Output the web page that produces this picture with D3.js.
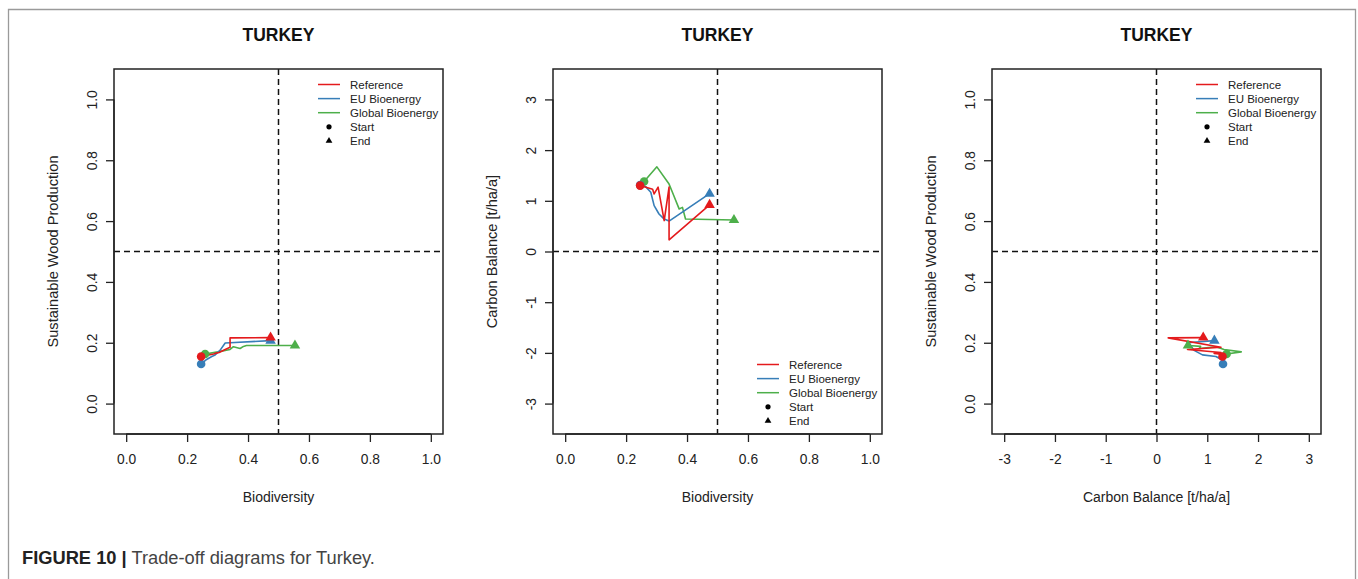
<!DOCTYPE html>
<html>
<head>
<meta charset="utf-8">
<script src="https://cdn.jsdelivr.net/npm/d3@7/dist/d3.min.js"></script>
<style>
  html, body { margin: 0; padding: 0; background: #fff; }
  svg { display: block; font-family: "Liberation Sans", Arial, sans-serif; }
</style>
</head>
<body>
<svg id="chart" width="1358" height="579"></svg>
<script>
// ---------- DATA ----------
const seriesNames = ["Reference", "EU Bioenergy", "Global Bioenergy"];
const seriesColors = ["#E41A1C", "#377EB8", "#4DAF4A"];

// Reference
const refBio    = [0.246, 0.287, 0.292, 0.305, 0.325, 0.341, 0.341, 0.474];
const refWood   = [0.155, 0.163, 0.165, 0.168, 0.178, 0.185, 0.216, 0.217];
const refCarbon = [1.30, 1.23, 1.135, 1.27, 0.61, 1.27, 0.23, 0.92];
// EU Bioenergy
const euBio     = [0.246, 0.264, 0.281, 0.292, 0.308, 0.325, 0.341, 0.474];
const euWood    = [0.130, 0.145, 0.155, 0.160, 0.175, 0.199, 0.200, 0.207];
const euCarbon  = [1.31, 1.28, 1.17, 0.905, 0.74, 0.64, 0.60, 1.14];
// Global Bioenergy
const glBio     = [0.259, 0.301, 0.341, 0.352, 0.374, 0.385, 0.395, 0.554];
const glWood    = [0.163, 0.170, 0.178, 0.187, 0.181, 0.188, 0.191, 0.191];
const glCarbon  = [1.38, 1.67, 1.33, 1.17, 0.84, 0.87, 0.64, 0.62];

const bioTicks = [0.0, 0.2, 0.4, 0.6, 0.8, 1.0];
const woodTicks = [0.0, 0.2, 0.4, 0.6, 0.8, 1.0];
const carbonTicks = [-3, -2, -1, 0, 1, 2, 3];
const titleText = "TURKEY";
const captionBold = "FIGURE 10 |";
const captionText = " Trade-off diagrams for Turkey.";

// ---------- BUILD ----------
const series = [
  { name: seriesNames[0], color: seriesColors[0], bio: refBio, wood: refWood, carbon: refCarbon },
  { name: seriesNames[1], color: seriesColors[1], bio: euBio, wood: euWood, carbon: euCarbon },
  { name: seriesNames[2], color: seriesColors[2], bio: glBio, wood: glWood, carbon: glCarbon }
];

const svg = d3.select("#chart");

// outer frame (open at bottom)
svg.append("path")
  .attr("d", "M8.5,579 L8.5,9.5 L1355.5,9.5 L1355.5,579")
  .attr("fill", "none").attr("stroke", "#9a9a9a").attr("stroke-width", 1.3);

const plotTop = 69, plotBottom = 434;

const fmt1 = d3.format(".1f");
const fmt0 = d => String(d);

const panels = [
  { x0: 114, x1: 443, xKey: "bio", yKey: "wood", xDom: [-0.04, 1.04], yDom: [-0.1, 1.1],
    xTicks: bioTicks, yTicks: woodTicks, xFmt: fmt1, yFmt: fmt1,
    xLabel: "Biodiversity", yLabel: "Sustainable Wood Production",
    vLine: 0.5, hLine: 0.5, legend: "top" },
  { x0: 553, x1: 882, xKey: "bio", yKey: "carbon", xDom: [-0.04, 1.04], yDom: [-3.6, 3.6],
    xTicks: bioTicks, yTicks: carbonTicks, xFmt: fmt1, yFmt: fmt0,
    xLabel: "Biodiversity", yLabel: "Carbon Balance [t/ha/a]",
    vLine: 0.5, hLine: 0, legend: "bottom" },
  { x0: 992, x1: 1321, xKey: "carbon", yKey: "wood", xDom: [-3.24, 3.24], yDom: [-0.1, 1.1],
    xTicks: carbonTicks, yTicks: woodTicks, xFmt: fmt0, yFmt: fmt1,
    xLabel: "Carbon Balance [t/ha/a]", yLabel: "Sustainable Wood Production",
    vLine: 0, hLine: 0.5, legend: "top" }
];

const drawOrder = [2, 1, 0];

panels.forEach(p => {
  const g = svg.append("g");
  const x = d3.scaleLinear().domain(p.xDom).range([p.x0, p.x1]);
  const y = d3.scaleLinear().domain(p.yDom).range([plotBottom, plotTop]);
  const cx = (p.x0 + p.x1) / 2;

  // title
  g.append("text").attr("x", cx).attr("y", 40.5).attr("text-anchor", "middle")
    .attr("font-weight", "bold").attr("font-size", 17.5).attr("fill", "#111").text(titleText);

  // dashed reference lines
  g.append("line").attr("x1", x(p.vLine)).attr("x2", x(p.vLine)).attr("y1", plotTop).attr("y2", plotBottom)
    .attr("stroke", "#111").attr("stroke-width", 1.5).attr("stroke-dasharray", "6,4");
  g.append("line").attr("x1", p.x0).attr("x2", p.x1).attr("y1", y(p.hLine)).attr("y2", y(p.hLine))
    .attr("stroke", "#111").attr("stroke-width", 1.5).attr("stroke-dasharray", "6,4");

  // axes
  const xAxis = d3.axisBottom(x).tickValues(p.xTicks).tickFormat(p.xFmt).tickSizeInner(8).tickSizeOuter(0).tickPadding(12);
  const gx = g.append("g").attr("transform", `translate(0,${plotBottom})`).call(xAxis);
  gx.select(".domain").attr("d", `M${x(p.xTicks[0])},0H${x(p.xTicks[p.xTicks.length - 1])}`)
    .attr("stroke", "#222").attr("stroke-width", 1.3);
  gx.selectAll(".tick line").attr("stroke", "#222").attr("stroke-width", 1.3);
  gx.selectAll(".tick text").attr("font-size", 13.8).attr("fill", "#222")
    .attr("font-family", "Liberation Sans, Arial, sans-serif");

  const yAxis = d3.axisLeft(y).tickValues(p.yTicks).tickFormat(p.yFmt).tickSizeInner(8).tickSizeOuter(0).tickPadding(0);
  const gy = g.append("g").attr("transform", `translate(${p.x0},0)`).call(yAxis);
  gy.select(".domain").attr("d", `M0,${y(p.yTicks[0])}V${y(p.yTicks[p.yTicks.length - 1])}`)
    .attr("stroke", "#222").attr("stroke-width", 1.3);
  gy.selectAll(".tick line").attr("stroke", "#222").attr("stroke-width", 1.3);
  gy.selectAll(".tick text")
    .attr("x", null).attr("dy", null)
    .attr("transform", "translate(-17,0) rotate(-90)")
    .attr("text-anchor", "middle").attr("y", 0)
    .attr("font-size", 13.8).attr("fill", "#222")
    .attr("font-family", "Liberation Sans, Arial, sans-serif");

  // box
  g.append("rect").attr("x", p.x0).attr("y", plotTop).attr("width", p.x1 - p.x0).attr("height", plotBottom - plotTop)
    .attr("fill", "none").attr("stroke", "#222").attr("stroke-width", 1.5);

  // axis labels
  g.append("text").attr("x", cx).attr("y", 501.5).attr("text-anchor", "middle")
    .attr("font-size", 14).attr("fill", "#222").text(p.xLabel);
  g.append("text").attr("transform", `translate(${p.x0 - 56},${(plotTop + plotBottom) / 2}) rotate(-90)`)
    .attr("text-anchor", "middle").attr("font-size", 14.6).attr("fill", "#222").text(p.yLabel);

  // series lines
  const line = d3.line().x(d => x(d[0])).y(d => y(d[1]));
  drawOrder.forEach(i => {
    const s = series[i];
    const pts = s[p.xKey].map((v, k) => [v, s[p.yKey][k]]);
    g.append("path").attr("d", line(pts)).attr("fill", "none")
      .attr("stroke", s.color).attr("stroke-width", 1.6).attr("stroke-linejoin", "round");
  });
  // markers
  const tri = d3.symbol().type(d3.symbolTriangle).size(48);
  drawOrder.forEach(i => {
    const s = series[i];
    const n = s[p.xKey].length;
    g.append("circle").attr("cx", x(s[p.xKey][0])).attr("cy", y(s[p.yKey][0])).attr("r", 4.3)
      .attr("fill", s.color);
    g.append("path").attr("d", tri)
      .attr("transform", `translate(${x(s[p.xKey][n - 1])},${y(s[p.yKey][n - 1])})`)
      .attr("fill", s.color);
  });

  // legend
  const lx = p.x1 - 125;
  const ly0 = p.legend === "top" ? 84.5 : 364.5;
  const lg = g.append("g");
  const items = seriesNames.map((nm, i) => ({ label: nm, color: seriesColors[i], kind: "line" }))
    .concat([{ label: "Start", kind: "circle" }, { label: "End", kind: "tri" }]);
  items.forEach((it, i) => {
    const yy = ly0 + i * 14.1;
    if (it.kind === "line") {
      lg.append("line").attr("x1", lx).attr("x2", lx + 22).attr("y1", yy).attr("y2", yy)
        .attr("stroke", it.color).attr("stroke-width", 1.5);
    } else if (it.kind === "circle") {
      lg.append("circle").attr("cx", lx + 11).attr("cy", yy).attr("r", 2.6).attr("fill", "#000");
    } else {
      lg.append("path").attr("d", d3.symbol().type(d3.symbolTriangle).size(20))
        .attr("transform", `translate(${lx + 11},${yy})`).attr("fill", "#000");
    }
    lg.append("text").attr("x", lx + 32).attr("y", yy + 4).attr("font-size", 11.5)
      .attr("fill", "#222").text(it.label);
  });
});

// caption
const cap = svg.append("text").attr("x", 22).attr("y", 564).attr("font-size", 18.3);
cap.append("tspan").attr("font-weight", "bold").attr("fill", "#222").text(captionBold);
cap.append("tspan").attr("fill", "#444").text(captionText);
</script>
</body>
</html>
